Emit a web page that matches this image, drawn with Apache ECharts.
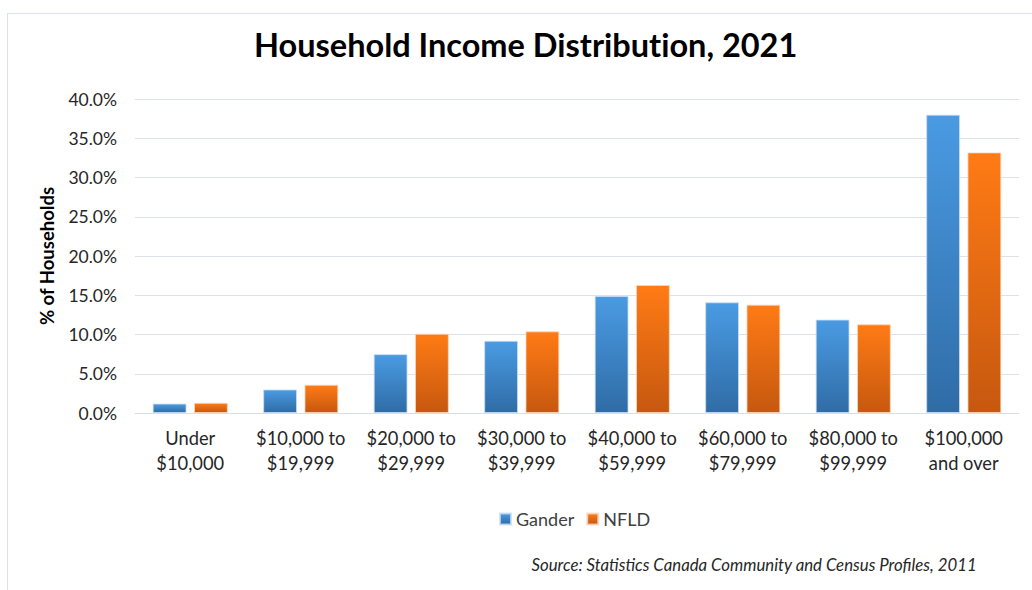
<!DOCTYPE html>
<html>
<head>
<meta charset="utf-8">
<script src="https://cdn.jsdelivr.net/npm/echarts@6/dist/echarts.min.js"></script>
<style>
  html, body { margin: 0; padding: 0; background: #ffffff; }
  #frame { position: absolute; left: 7px; top: 13px; width: 1030px; height: 580px;
           border-left: 1px solid #dce3ec; border-top: 1px solid #dce3ec; }
  #chart { position: absolute; left: 0; top: 0; width: 1032px; height: 590px; }
  #chart text { font-variant-ligatures: none; }
</style>
</head>
<body>
<div id="frame"></div>
<div id="chart"></div>
<script>
// Household income brackets and the share of households in each
const categories = ['Under\n$10,000', '$10,000 to\n$19,999', '$20,000 to\n$29,999', '$30,000 to\n$39,999',
                    '$40,000 to\n$59,999', '$60,000 to\n$79,999', '$80,000 to\n$99,999', '$100,000\nand over'];
const gander = [1.2, 3.0, 7.5, 9.2, 14.9, 14.1, 11.9, 38.0];
const nfld   = [1.3, 3.6, 10.1, 10.4, 16.3, 13.8, 11.3, 33.2];
const seriesNames = ['Gander', 'NFLD'];

const FONT = 'Lato, "Open Sans", sans-serif';

function grad(top, bottom) {
  return new echarts.graphic.LinearGradient(0, 0, 0, 1, [
    { offset: 0, color: top },
    { offset: 1, color: bottom }
  ]);
}

const chart = echarts.init(document.getElementById('chart'), null, { renderer: 'svg' });
chart.setOption({
  animation: false,
  backgroundColor: 'transparent',
  title: {
    text: 'Household Income Distribution, 2021',
    left: 249, top: 23,
    textStyle: { fontFamily: FONT, fontWeight: 'bold', fontSize: 32.5, color: '#000000' }
  },
  legend: {
    data: seriesNames,
    top: 505, left: 494, itemGap: 12,
    itemWidth: 11, itemHeight: 11,
    icon: 'rect',
    textStyle: { fontFamily: FONT, fontSize: 18, color: '#404040' }
  },
  graphic: [{
    type: 'text', right: 55, top: 556,
    style: { text: 'Source: Statistics Canada Community and Census Profiles, 2011',
             font: 'italic 16.8px ' + FONT, fill: '#262626' }
  }],
  grid: { left: 135, right: 13, top: 99, bottom: 177, containLabel: false },
  xAxis: {
    type: 'category', data: categories,
    axisLine: { lineStyle: { color: '#d9dee6' } },
    axisTick: { show: false },
    axisLabel: { interval: 0, fontFamily: FONT, fontSize: 18.3, color: '#262626', lineHeight: 25, margin: 12 }
  },
  yAxis: {
    type: 'value', min: 0, max: 40, interval: 5,
    name: '% of Households', nameLocation: 'middle', nameGap: 79, nameRotate: 90,
    nameTextStyle: { fontFamily: FONT, fontWeight: 'bold', fontSize: 18.5, color: '#000000' },
    axisLine: { show: false }, axisTick: { show: false },
    splitLine: { lineStyle: { color: '#dde2ea', width: 1 } },
    axisLabel: { fontFamily: FONT, fontSize: 17.5, color: '#262626', margin: 18,
                 formatter: v => v.toFixed(1) + '%' }
  },
  series: [
    { name: seriesNames[0], type: 'bar', data: gander, barGap: '22%', barCategoryGap: '32%',
      itemStyle: { color: grad('#4a9be3', '#2f6ca6'), borderColor: 'rgba(200,220,245,0.8)', borderWidth: 1 } },
    { name: seriesNames[1], type: 'bar', data: nfld,
      itemStyle: { color: grad('#ff7b15', '#c6580f'), borderColor: 'rgba(250,215,190,0.8)', borderWidth: 1 } }
  ]
});
</script>
</body>
</html>
